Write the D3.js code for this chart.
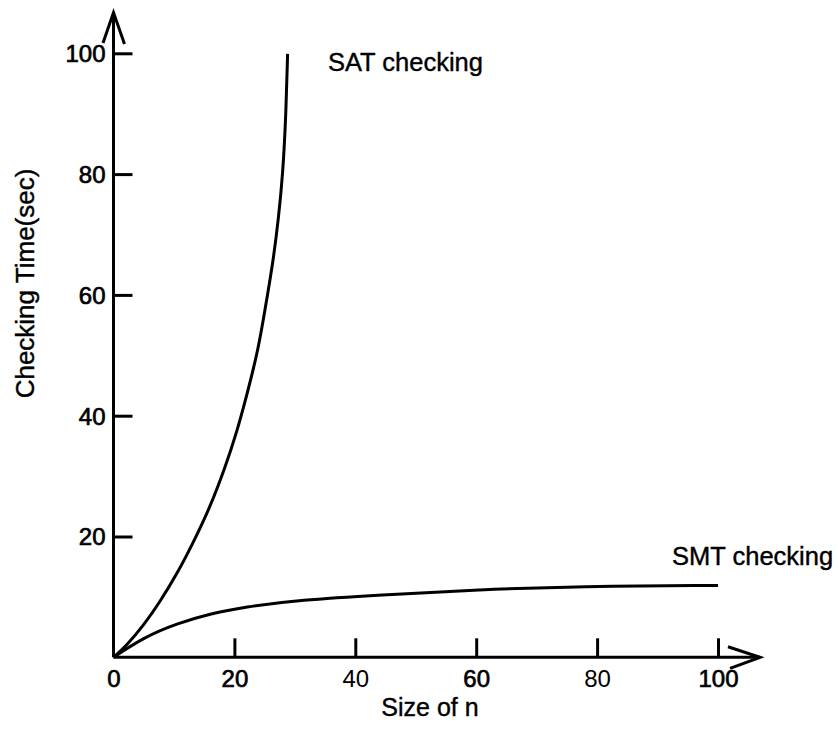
<!DOCTYPE html>
<html>
<head>
<meta charset="utf-8">
<script src="https://cdn.jsdelivr.net/npm/d3@7"></script>
<style>
  html, body { margin: 0; padding: 0; background: #fff; }
  svg { display: block; }
  text { font-family: "Liberation Sans", Arial, Helvetica, sans-serif; fill: #000; }
</style>
</head>
<body>
<svg id="chart" width="838" height="729"></svg>
<script>
// ---- data ----
const xTicks = [0, 20, 40, 60, 80, 100];
const yTicks = [20, 40, 60, 80, 100];
const lightXTicks = [40, 80];
const satN = [0, 2.2, 5.0, 7.7, 10.5, 13.2, 16.0, 18.5, 20.4, 22.0, 24.0, 25.3, 26.4, 27.3, 28.0, 28.5, 28.8];
const satT = [0, 2.0, 5.3, 9.2, 13.8, 19.0, 24.9, 31.5, 37.3, 43.2, 51.1, 59.0, 65.5, 72.7, 79.9, 89.1, 99.9];
const smtN = [0, 5.0, 10.5, 16.0, 21.5, 30.9, 43.9, 60.5, 77.1, 100];
const smtT = [0, 3.3, 5.6, 7.2, 8.3, 9.5, 10.3, 11.2, 11.75, 11.9];
const xTitle = "Size of n";
const yTitle = "Checking Time(sec)";
const satLabel = "SAT checking";
const smtLabel = "SMT checking";

// ---- layout ----
const svg = d3.select("#chart");
const x = d3.scaleLinear().domain([0, 100]).range([113.5, 718]);
const y = d3.scaleLinear().domain([0, 100]).range([657.3, 53.3]);
const X0 = x(0), Y0 = y(0);
const SW = 3;

// x axis ticks (inward, upward)
const xAxis = d3.axisBottom(x).tickValues(xTicks).tickSizeInner(-19).tickSizeOuter(0).tickPadding(0)
  .tickFormat(d3.format("d"));
const gx = svg.append("g").attr("transform", `translate(0,${Y0})`).call(xAxis);
gx.select(".domain").remove();
gx.selectAll(".tick line").attr("stroke", "#000").attr("stroke-width", SW)
  .filter(d => d === 0).remove();
gx.selectAll(".tick text").attr("y", 30).attr("dy", null)
  .style("font-size", "24px").attr("font-family", null).attr("fill", "#000")
  .attr("stroke", d => lightXTicks.includes(d) ? null : "#000")
  .attr("stroke-width", d => lightXTicks.includes(d) ? null : 0.7)
  .attr("fill", d => lightXTicks.includes(d) ? "#222" : "#000");

// y axis ticks (inward, rightward)
const yAxis = d3.axisLeft(y).tickValues(yTicks).tickSizeInner(-19).tickSizeOuter(0).tickPadding(0)
  .tickFormat(d3.format("d"));
const gy = svg.append("g").attr("transform", `translate(${X0},0)`).call(yAxis);
gy.select(".domain").remove();
gy.selectAll(".tick line").attr("stroke", "#000").attr("stroke-width", SW);
gy.selectAll(".tick text").attr("x", -8).attr("dy", "0.35em")
  .style("font-size", "24px").attr("font-family", null).attr("fill", "#000")
  .attr("stroke", "#000").attr("stroke-width", 0.7);

// axis lines with open arrowheads
svg.append("path")
  .attr("d", `M${X0},${Y0} L${X0},12`)
  .attr("stroke", "#000").attr("stroke-width", SW).attr("fill", "none");
svg.append("path")
  .attr("d", `M${X0 - 10.5},43 L${X0},12.5 L${X0 + 11},44`)
  .attr("stroke", "#000").attr("stroke-width", SW).attr("fill", "none");
svg.append("path")
  .attr("d", `M${X0},${Y0} L760,${Y0}`)
  .attr("stroke", "#000").attr("stroke-width", SW).attr("fill", "none");
svg.append("path")
  .attr("d", `M728,${Y0 - 10.5} L760,${Y0} L730,${Y0 + 11}`)
  .attr("stroke", "#000").attr("stroke-width", SW).attr("fill", "none");

// curves
const line = d3.line().x(d => x(d[0])).y(d => y(d[1])).curve(d3.curveBasis);
svg.append("path").datum(d3.zip(satN, satT)).attr("d", line)
  .attr("fill", "none").attr("stroke", "#000").attr("stroke-width", SW);
svg.append("path").datum(d3.zip(smtN, smtT)).attr("d", line)
  .attr("fill", "none").attr("stroke", "#000").attr("stroke-width", SW);

// labels
const lab = (sel) => sel.attr("stroke", "#000").attr("stroke-width", 0.4);
svg.append("text").attr("x", 328).attr("y", 71).style("font-size", "25.5px").text(satLabel).call(lab);
svg.append("text").attr("x", 672).attr("y", 565).style("font-size", "25.5px").text(smtLabel).call(lab);
svg.append("text").attr("x", 430).attr("y", 716).attr("text-anchor", "middle")
  .style("font-size", "25px").text(xTitle).call(lab);
svg.append("text").attr("transform", "translate(34,283.5) rotate(-90)").attr("text-anchor", "middle")
  .style("font-size", "26px").text(yTitle).call(lab);
</script>
</body>
</html>
